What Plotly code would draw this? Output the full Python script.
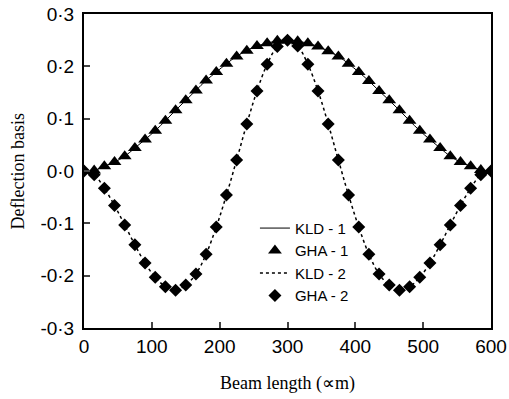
import plotly.graph_objects as go

# Beam positions (every 15 units along the beam)
beam_x = [0, 15, 30, 45, 60, 75, 90, 105, 120, 135, 150, 165, 180, 195, 210,
          225, 240, 255, 270, 285, 300, 315, 330, 345, 360, 375, 390, 405,
          420, 435, 450, 465, 480, 495, 510, 525, 540, 555, 570, 585, 600]

# Mode 1 deflection basis (GHA samples / KLD curve)
mode1 = [0.000, 0.001, 0.009, 0.017, 0.028, 0.044, 0.060, 0.077, 0.096, 0.116,
         0.135, 0.154, 0.173, 0.189, 0.205, 0.219, 0.230, 0.239, 0.244, 0.249,
         0.250, 0.248, 0.244, 0.238, 0.229, 0.219, 0.205, 0.189, 0.172, 0.153,
         0.135, 0.116, 0.096, 0.077, 0.060, 0.044, 0.028, 0.017, 0.009, 0.002,
         0.000]

# Mode 2 deflection basis (GHA samples / KLD curve)
mode2 = [0.000, -0.007, -0.033, -0.066, -0.103, -0.141, -0.176, -0.203, -0.221,
         -0.228, -0.218, -0.197, -0.159, -0.107, -0.046, 0.021, 0.090, 0.153,
         0.204, 0.238, 0.250, 0.239, 0.204, 0.153, 0.090, 0.021, -0.046, -0.107,
         -0.159, -0.197, -0.218, -0.228, -0.221, -0.203, -0.176, -0.141, -0.103,
         -0.066, -0.033, -0.007, 0.000]

kld1 = mode1
gha1 = mode1
kld2 = mode2
gha2 = mode2

x_ticks = [0, 100, 200, 300, 400, 500, 600]
y_ticks = [-0.3, -0.2, -0.1, 0.0, 0.1, 0.2, 0.3]
y_tick_text = ["-0·3", "-0·2", "-0·1", "0·0", "0·1", "0·2", "0·3"]
x_title = "Beam length (∝m)"
y_title = "Deflection basis"

serif = "Liberation Serif, Times New Roman"
sans = "Liberation Sans, Arial"

fig = go.Figure()
fig.add_trace(go.Scatter(x=beam_x, y=kld1, mode="lines", name="KLD - 1",
                         line=dict(color="black", width=1, shape="spline")))
fig.add_trace(go.Scatter(x=beam_x, y=gha1, mode="markers", name="GHA - 1",
                         marker=dict(symbol="triangle-up", size=12, color="black")))
fig.add_trace(go.Scatter(x=beam_x, y=kld2, mode="lines", name="KLD - 2",
                         line=dict(color="black", width=1.5, dash="3px,3px", shape="spline")))
fig.add_trace(go.Scatter(x=beam_x, y=gha2, mode="markers", name="GHA - 2",
                         marker=dict(symbol="diamond", size=10, color="black")))

fig.update_layout(
    width=509, height=399,
    margin=dict(l=84, r=18, t=14, b=71),
    plot_bgcolor="white", paper_bgcolor="white",
    font=dict(family=sans, color="black"),
    showlegend=True,
    legend=dict(x=0.42, y=0.37, xanchor="left", yanchor="top",
                bgcolor="rgba(0,0,0,0)",
                font=dict(size=15, family=sans, color="black")),
    annotations=[
        dict(text=x_title, xref="paper", yref="paper", x=0.5, y=-0.176,
             xanchor="center", yanchor="middle", showarrow=False,
             font=dict(size=18, family=serif, color="black")),
        dict(text=y_title, xref="paper", yref="paper", x=-0.161, y=0.5,
             xanchor="center", yanchor="middle", showarrow=False, textangle=-90,
             font=dict(size=18, family=serif, color="black")),
    ],
)
fig.update_xaxes(
    range=[0, 600], tickvals=x_ticks, ticks="inside", ticklen=6, tickwidth=1.5,
    showline=True, linecolor="black", linewidth=2, mirror=True,
    showgrid=False, zeroline=False, automargin=False,
    tickfont=dict(size=19, family=sans, color="black"),
)
fig.update_yaxes(
    range=[-0.3, 0.3], tickvals=y_ticks, ticktext=y_tick_text, ticks="inside", ticklen=6,
    tickwidth=1.5, showline=True, linecolor="black", linewidth=2, mirror=True,
    showgrid=False, zeroline=False, automargin=False,
    tickfont=dict(size=19, family=sans, color="black"),
    ticklabelstandoff=4,
)

fig.write_html("out.html", config={"displayModeBar": False},
               post_script="document.body.style.margin='0';")
